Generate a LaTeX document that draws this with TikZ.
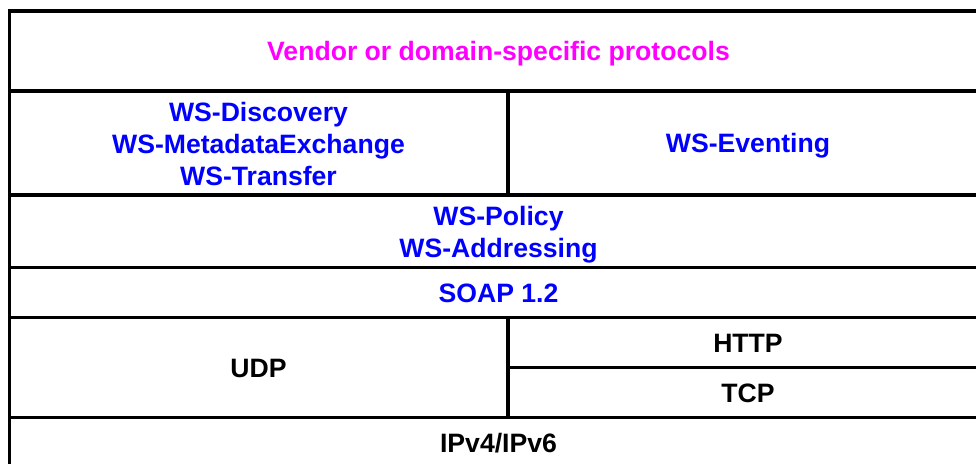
\documentclass[tikz,border=0pt]{standalone}
\usepackage{fontspec}
\setmainfont{Liberation Sans}
\definecolor{vendmag}{RGB}{255,0,255}
\definecolor{wsblue}{RGB}{0,0,255}
\begin{document}
\begin{tikzpicture}[x=1pt,y=-1pt,
  rule/.style={line width=3.4pt,black},
  lbl/.style={font=\fontsize{26.6}{32}\selectfont\bfseries,align=center,inner sep=0pt,
    text height=19pt,text depth=0pt},
  twolines/.style={text height=51pt},
  threelines/.style={text height=83pt},
  magtxt/.style={lbl,text=vendmag},
  bluetxt/.style={lbl,text=wsblue},
  blktxt/.style={lbl,text=black}]
\useasboundingbox (0,0) rectangle (976,463);
\clip (0,0) rectangle (976,463);
% grid coordinates
\coordinate (tl) at (9.5,11);
\coordinate (br) at (988,467.5);
% outer frame
\draw[rule] (tl) rectangle (br);
% horizontal rules
\draw[rule] (9.5,91) -- (988,91);
\draw[rule] (9.5,195) -- (988,195);
\draw[rule] (9.5,267.5) -- (988,267.5);
\draw[rule] (9.5,317.5) -- (988,317.5);
\draw[rule] (508,367.5) -- (988,367.5);
\draw[rule] (9.5,417.5) -- (988,417.5);
% vertical dividers
\draw[rule] (508,91) -- (508,195);
\draw[rule] (508,317.5) -- (508,417.5);
% labels
\node[magtxt] (vendor) at (498.5,51) {Vendor or domain-specific protocols};
\node[bluetxt,threelines] (disc) at (258.5,144) {WS-Discovery\\WS-MetadataExchange\\WS-Transfer};
\node[bluetxt] (event) at (748,143) {WS-Eventing};
\node[bluetxt,twolines] (policy) at (498.5,231.5) {WS-Policy\\WS-Addressing};
\node[bluetxt] (soap) at (498.5,292.5) {SOAP 1.2};
\node[blktxt] (udp) at (258.5,367.5) {UDP};
\node[blktxt] (http) at (748,342.5) {HTTP};
\node[blktxt] (tcp) at (748,392.5) {TCP};
\node[blktxt] (ip) at (498.5,442.5) {IPv4/IPv6};
\end{tikzpicture}
\end{document}
